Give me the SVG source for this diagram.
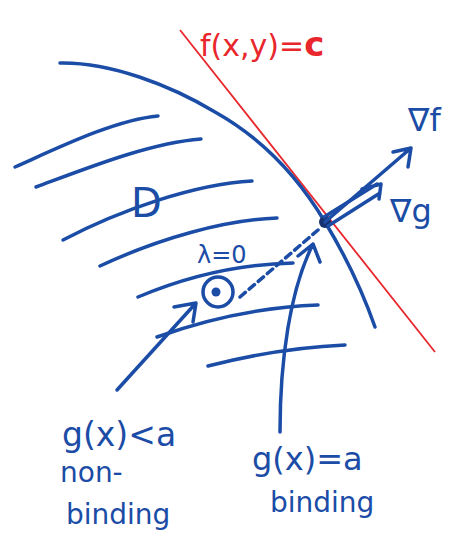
<svg xmlns="http://www.w3.org/2000/svg" width="462" height="540" viewBox="0 0 462 540">
<style>
.b{fill:none;stroke:#1b4ca6;stroke-width:3.5;stroke-linecap:round;stroke-linejoin:round}
.r{fill:none;stroke:#e8262c;stroke-width:1.8}
.tb{fill:#1b4ca6;font-family:"DejaVu Sans",sans-serif}
.tr{fill:#e8262c;font-family:"DejaVu Sans",sans-serif}
</style>
<rect width="462" height="540" fill="#fff"/>
<g id="levelset">
<line class="r" x1="180" y1="30" x2="435" y2="352"/>
<text class="tr" x="200" y="56" font-size="30">f(x,y)=<tspan font-weight="bold" font-size="34">c</tspan></text>
</g>
<g id="boundary">
<path class="b" d="M60,63 C110,62 170,85 215,112 C265,140 300,180 325,222 C345,255 362,290 375,327"/>
</g>
<g id="region">
<path class="b" d="M15,167 C60,147 115,120 158,116"/>
<path class="b" d="M36,187 C90,167 150,143 201,139"/>
<path class="b" d="M63,240 C120,210 195,184 252,181"/>
<path class="b" d="M100,266 C160,238 225,220 277,218"/>
<path class="b" d="M138,297 C190,275 245,264 293,263"/>
<path class="b" d="M157,337 C210,318 265,307 318,305"/>
<path class="b" d="M208,366 C255,354 300,347 345,345"/>
<text class="tb" x="131" y="217" font-size="40">D</text>
</g>
<g id="interior-point">
<circle class="b" cx="218" cy="292" r="15"/>
<circle cx="216" cy="292" r="4.5" fill="#1b4ca6"/>
<text class="tb" x="197" y="263" font-size="24">λ=0</text>
</g>
<g id="optimum">
<circle cx="325" cy="222" r="6" fill="#14306e"/>
</g>
<g id="gradf">
<text class="tb" x="408" y="131" font-size="32">∇f</text>
</g>
<g id="gradg">
<text class="tb" x="390" y="222" font-size="32">∇g</text>
</g>
<g id="label-nonbinding">
<text class="tb" x="62" y="446" font-size="33">g(x)&lt;a</text>
<text class="tb" x="60" y="482" font-size="28">non-</text>
<text class="tb" x="66" y="524" font-size="28">binding</text>
</g>
<g id="label-binding">
<text class="tb" x="252" y="470" font-size="32">g(x)=a</text>
<text class="tb" x="270" y="512" font-size="28">binding</text>
</g>
<g id="connectors">
<path class="b" d="M325,222 L411,148 M393,152 L411,148 L408,167"/>
<path class="b" stroke-width="3" d="M324,217 L377,184 M328,226 L380,193 M362,189 L381,184 L379,199"/>
<path class="b" stroke="#1a3470" stroke-width="3" stroke-dasharray="7,5" d="M240,297 L318,230"/>
<path class="b" d="M117,390 L196,303 M174,307 L196,303 L193,322"/>
<path class="b" d="M280,432 C280,360 290,290 313,244 M298,256 L313,244 L320,262"/>
</g>
</svg>
